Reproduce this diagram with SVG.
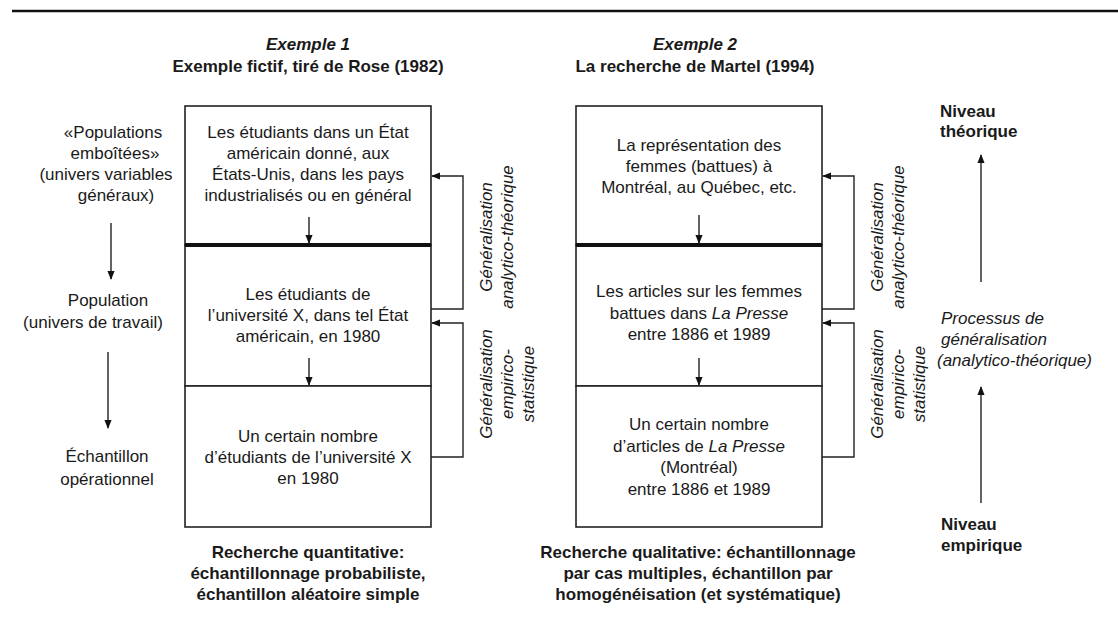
<svg xmlns="http://www.w3.org/2000/svg" width="1118" height="619" viewBox="0 0 1118 619">
<style>
text{font-family:"Liberation Sans",Arial,sans-serif;font-size:17px;fill:#1a1a1a}
.c{text-anchor:middle}
.b{font-weight:bold}
.i{font-style:italic}
.box{fill:#fff;stroke:#222;stroke-width:1.6}
.ln{fill:none;stroke:#222;stroke-width:1.4}
.thick{stroke:#111;stroke-width:4}
</style>
<defs>
<marker id="ah" viewBox="0 0 10 10" refX="9" refY="5" markerWidth="9" markerHeight="9" markerUnits="userSpaceOnUse" orient="auto">
<path d="M0,1 L10,5 L0,9 Z" fill="#111"/>
</marker>
</defs>
<rect width="1118" height="619" fill="#fff"/>
<line x1="12" y1="11" x2="1118" y2="11" stroke="#111" stroke-width="2.5"/>

<g id="title1">
<text class="c b i" x="308" y="50">Exemple 1</text>
<text class="c b" x="308" y="72">Exemple fictif, tiré de Rose (1982)</text>
</g>
<g id="title2">
<text class="c b i" x="695" y="50">Exemple 2</text>
<text class="c b" x="695" y="72">La recherche de Martel (1994)</text>
</g>

<g id="levels-left">
<text class="c" x="113" y="138">«Populations</text>
<text class="c" x="115" y="159">emboîtées»</text>
<text class="c" x="106" y="180">(univers variables</text>
<text class="c" x="116" y="201">généraux)</text>
<text class="c" x="108" y="306">Population</text>
<text class="c" x="93" y="328">(univers de travail)</text>
<text class="c" x="107" y="462">Échantillon</text>
<text class="c" x="107" y="485">opérationnel</text>
</g>

<g id="ex1-general">
<rect class="box" x="185" y="106" width="246" height="139"/>
<text class="c" x="308" y="138">Les étudiants dans un État</text>
<text class="c" x="308" y="159">américain donné, aux</text>
<text class="c" x="308" y="180">États-Unis, dans les pays</text>
<text class="c" x="308" y="201">industrialisés ou en général</text>
</g>
<g id="ex1-population">
<rect class="box" x="185" y="245" width="246" height="141"/>
<text class="c" x="308" y="300">Les étudiants de</text>
<text class="c" x="308" y="321">l’université X, dans tel État</text>
<text class="c" x="308" y="342">américain, en 1980</text>
</g>
<g id="ex1-sample">
<rect class="box" x="185" y="386" width="246" height="141"/>
<text class="c" x="308" y="442">Un certain nombre</text>
<text class="c" x="308" y="463">d’étudiants de l’université X</text>
<text class="c" x="308" y="484">en 1980</text>
</g>

<g id="ex2-general">
<rect class="box" x="576" y="106" width="246" height="139"/>
<text class="c" x="699" y="151">La représentation des</text>
<text class="c" x="699" y="172">femmes (battues) à</text>
<text class="c" x="699" y="193">Montréal, au Québec, etc.</text>
</g>
<g id="ex2-population">
<rect class="box" x="576" y="245" width="246" height="141"/>
<text class="c" x="699" y="297">Les articles sur les femmes</text>
<text class="c" x="699" y="319">battues dans <tspan class="i">La Presse</tspan></text>
<text class="c" x="699" y="340">entre 1886 et 1989</text>
</g>
<g id="ex2-sample">
<rect class="box" x="576" y="386" width="246" height="141"/>
<text class="c" x="699" y="430">Un certain nombre</text>
<text class="c" x="699" y="452">d’articles de <tspan class="i">La Presse</tspan></text>
<text class="c" x="699" y="473">(Montréal)</text>
<text class="c" x="699" y="495">entre 1886 et 1989</text>
</g>

<g id="dividers">
<line class="thick" x1="185" y1="245" x2="431" y2="245"/>
<line class="thick" x1="576" y1="245" x2="822" y2="245"/>
</g>

<g id="gen-labels">
<text class="c i" transform="translate(492,237) rotate(-90)">Généralisation</text>
<text class="c i" transform="translate(513,237) rotate(-90)">analytico-théorique</text>
<text class="c i" transform="translate(492,384) rotate(-90)">Généralisation</text>
<text class="c i" transform="translate(513,384) rotate(-90)">empirico-</text>
<text class="c i" transform="translate(534,384) rotate(-90)">statistique</text>
<text class="c i" transform="translate(883,237) rotate(-90)">Généralisation</text>
<text class="c i" transform="translate(904,237) rotate(-90)">analytico-théorique</text>
<text class="c i" transform="translate(883,384) rotate(-90)">Généralisation</text>
<text class="c i" transform="translate(904,384) rotate(-90)">empirico-</text>
<text class="c i" transform="translate(925,384) rotate(-90)">statistique</text>
</g>

<g id="levels-right">
<text class="b" x="940" y="117">Niveau</text>
<text class="b" x="940" y="137">théorique</text>
<text class="i" x="941" y="324">Processus de</text>
<text class="i" x="941" y="345">généralisation</text>
<text class="i" x="937" y="366">(analytico-théorique)</text>
<text class="b" x="941" y="530">Niveau</text>
<text class="b" x="941" y="551">empirique</text>
</g>

<g id="captions">
<text class="c b" x="308" y="558">Recherche quantitative:</text>
<text class="c b" x="308" y="579">échantillonnage probabiliste,</text>
<text class="c b" x="308" y="600">échantillon aléatoire simple</text>
<text class="c b" x="698" y="558">Recherche qualitative: échantillonnage</text>
<text class="c b" x="698" y="579">par cas multiples, échantillon par</text>
<text class="c b" x="698" y="600">homogénéisation (et systématique)</text>
</g>

<g id="connectors" class="ln" marker-end="url(#ah)">
<line x1="111" y1="223" x2="111" y2="279"/>
<line x1="108" y1="352" x2="108" y2="428"/>
<line x1="309" y1="217" x2="309" y2="243"/>
<line x1="309" y1="358" x2="309" y2="385"/>
<line x1="699" y1="215" x2="699" y2="243"/>
<line x1="699" y1="358" x2="699" y2="385"/>
<path d="M431,309 H463 V176 H432"/>
<path d="M431,457 H463 V323 H432"/>
<path d="M822,309 H854 V176 H823"/>
<path d="M822,457 H854 V323 H823"/>
<line x1="981" y1="282" x2="981" y2="155"/>
<line x1="981" y1="503" x2="981" y2="387"/>
</g>
</svg>
